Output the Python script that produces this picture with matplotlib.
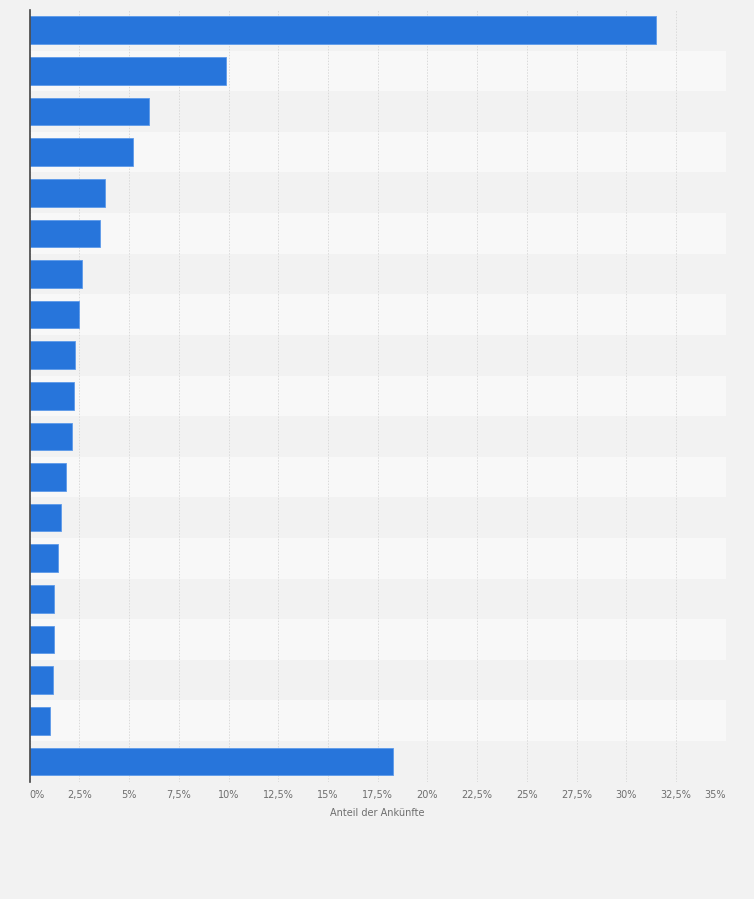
import matplotlib
matplotlib.use("Agg")
import matplotlib.pyplot as plt

# share of arrivals (%) per country, top to bottom; labels are not shown in the chart
shares = [31.5, 9.85, 5.98, 5.17, 3.8, 3.55, 2.64, 2.5, 2.29, 2.23, 2.14,
          1.84, 1.57, 1.42, 1.23, 1.23, 1.18, 1.03, 18.25]
xticks = [0, 2.5, 5, 7.5, 10, 12.5, 15, 17.5, 20, 22.5, 25, 27.5, 30, 32.5, 35]
xlabel = "Anteil der Ankünfte"

bg = "#f2f2f2"
bar_color = "#2775db"

fig = plt.figure(figsize=(7.54, 8.99), dpi=100, facecolor=bg)
ax = fig.add_axes([0.0394, 0.1305, 0.9231, 0.8584])
ax.set_facecolor(bg)

n = len(shares)
ypos = list(range(n))

# alternating row bands
for i in ypos:
    if i % 2 == 1:
        ax.axhspan(i - 0.5, i + 0.5, color="#f8f8f8", zorder=0, lw=0)

ax.barh(ypos, shares, height=0.68, color=bar_color,
        edgecolor="#5d9aea", linewidth=0.6, zorder=3)

ax.set_xlim(0, 35)
ax.set_ylim(n - 0.5, -0.5)
ax.set_yticks([])
ax.set_xticks(xticks)
labels = [(f"{t:g}".replace(".", ",") + "%") for t in xticks]
ax.set_xticklabels(labels, fontsize=7, color="#6e6e6e")
ax.get_xticklabels()[0].set_horizontalalignment("left")
ax.get_xticklabels()[-1].set_horizontalalignment("right")
ax.tick_params(axis="x", length=0, pad=6)
ax.xaxis.grid(True, color="#dadada", linestyle=(0, (1.5, 1.5)), linewidth=0.7, zorder=1)
ax.set_axisbelow(True)

for side in ["top", "right", "bottom"]:
    ax.spines[side].set_visible(False)
ax.spines["left"].set_color("#444444")
ax.spines["left"].set_linewidth(1.2)
ax.spines["left"].set_zorder(4)

ax.set_xlabel(xlabel, fontsize=7, color="#6e6e6e", labelpad=6)

fig.savefig("out.png", dpi=100, facecolor=bg)
